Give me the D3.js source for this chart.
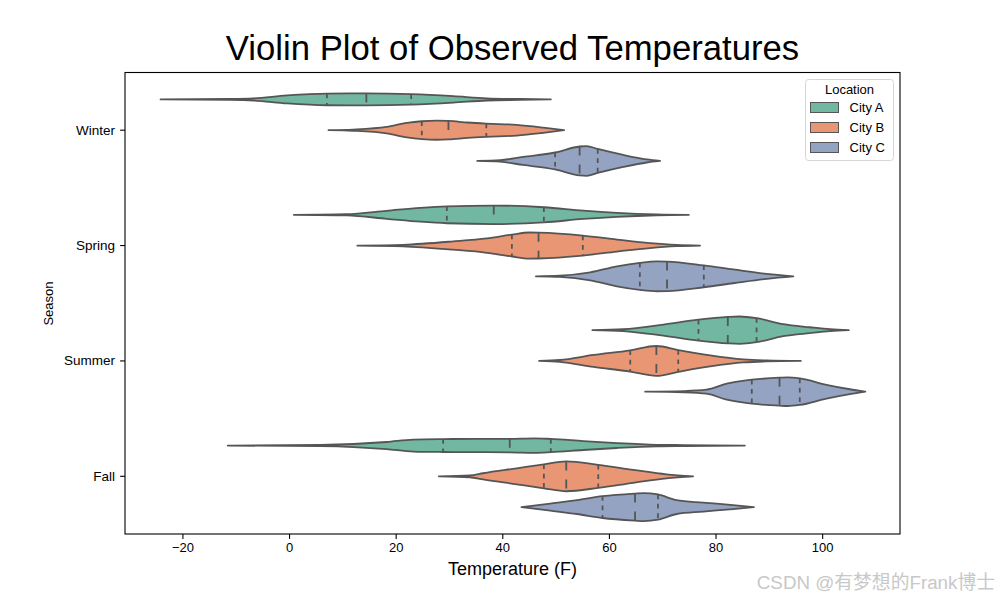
<!DOCTYPE html>
<html>
<head>
<meta charset="utf-8">
<script src="https://cdn.jsdelivr.net/npm/d3@7"></script>
<style>
  html, body { margin: 0; padding: 0; background: #fff; }
  svg { display: block; font-family: "Liberation Sans", Arial, sans-serif; }
</style>
</head>
<body>
<svg id="chart" width="1000" height="600"></svg>
<script>
// ---------------- DATA ----------------
const seasons = ["Winter", "Spring", "Summer", "Fall"];
const cities = ["City A", "City B", "City C"];
const xTicks = [-20, 0, 20, 40, 60, 80, 100];
const cityColors = ["#72b7a1", "#e99675", "#95a3c3"];

// quartiles [Q1, median, Q3] per season (Winter, Spring, Summer, Fall)
const quartilesA = [[7.1, 14.5, 22.9], [29.6, 38.4, 47.8], [76.8, 82.3, 87.7], [28.9, 41.4, 49.1]];
const quartilesB = [[24.9, 29.9, 37.0], [41.8, 46.8, 55.1], [64.0, 68.9, 73.0], [47.8, 52.0, 58.0]];
const quartilesC = [[49.9, 54.5, 57.9], [65.8, 70.9, 77.8], [86.8, 92.0, 95.8], [58.8, 64.9, 69.2]];

// density profiles: [temperature, relative density]
const densWinterA = [[-24.1,0],[-11.1,0.03],[-6.7,0.07],[-0.4,0.26],[7.1,0.38],[14.5,0.39],[22.9,0.34],[30.8,0.21],[37.1,0.07],[43.3,0.03],[49.1,0]];
const densWinterB = [[7.4,0],[12.0,0.04],[18.3,0.21],[22.1,0.47],[24.9,0.58],[27.7,0.62],[29.9,0.6],[33.5,0.5],[37.0,0.43],[42.7,0.35],[47.7,0.17],[51.6,0]];
const densWinterC = [[35.3,0],[39.6,0.05],[43.9,0.26],[49.9,0.55],[54.5,0.94],[55.8,0.97],[57.9,0.78],[62.7,0.39],[67.1,0.1],[69.6,0]];
const densSpringA = [[0.9,0],[10.8,0.04],[18.3,0.26],[24.6,0.45],[29.6,0.55],[38.4,0.6],[47.8,0.49],[55.2,0.27],[61.5,0.13],[69.0,0.03],[75.0,0]];
const densSpringB = [[12.8,0],[21.4,0.05],[30.8,0.27],[37.1,0.47],[41.8,0.71],[45.0,0.85],[46.8,0.84],[55.1,0.65],[61.5,0.39],[67.7,0.16],[72.7,0.04],[77.1,0]];
const densSpringC = [[46.3,0],[50.8,0.04],[56.5,0.26],[61.5,0.65],[65.8,0.88],[69.0,0.97],[70.9,0.96],[77.8,0.71],[83.3,0.45],[89.6,0.16],[94.6,0]];
const densSummerA = [[56.9,0],[62.7,0.06],[70.2,0.36],[76.8,0.68],[82.3,0.86],[84.5,0.89],[87.7,0.78],[92.7,0.39],[97.7,0.19],[101.5,0.06],[105.0,0]];
const densSummerB = [[46.9,0],[50.8,0.06],[57.1,0.39],[64.0,0.69],[68.9,0.97],[73.0,0.71],[79.0,0.36],[85.2,0.1],[89.6,0.03],[96.0,0]];
const densSummerC = [[66.8,0],[74.0,0.04],[78.3,0.13],[82.1,0.52],[86.8,0.78],[92.0,0.91],[93.5,0.93],[95.8,0.86],[100.8,0.45],[105.2,0.16],[108.1,0]];
const densFallA = [[-11.5,0],[5.8,0.04],[12.1,0.1],[18.3,0.23],[23.3,0.39],[28.9,0.42],[35.0,0.43],[41.4,0.44],[46.0,0.47],[49.1,0.43],[55.2,0.29],[61.5,0.16],[69.0,0.05],[74.0,0.03],[85.5,0]];
const densFallB = [[28.1,0],[33.9,0.06],[36.4,0.2],[42.7,0.52],[47.8,0.78],[52.0,0.97],[58.0,0.75],[64.6,0.42],[70.8,0.13],[75.8,0]];
const densFallC = [[43.6,0],[49.0,0.23],[54.0,0.45],[58.8,0.71],[64.9,0.88],[66.5,0.91],[69.2,0.82],[72.7,0.45],[77.7,0.29],[83.3,0.13],[87.2,0]];

// ---------------- BUILD ----------------
const quartiles = [quartilesA, quartilesB, quartilesC];
const densities = [
  [densWinterA, densSpringA, densSummerA, densFallA],
  [densWinterB, densSpringB, densSummerB, densFallB],
  [densWinterC, densSpringC, densSummerC, densFallC]
];
const violins = [];
seasons.forEach((s, si) => {
  cities.forEach((c, ci) => {
    violins.push({ season: s, city: c, ci, dens: densities[ci][si], q: quartiles[ci][si] });
  });
});

const svg = d3.select("#chart");
const plot = { left: 125, right: 900, top: 72.5, bottom: 534 };

const x = d3.scaleLinear().domain([-30.77, 114.6]).range([plot.left, plot.right]);
const y = d3.scaleBand().domain(seasons).range([plot.top, plot.bottom]).paddingInner(0).paddingOuter(0);
const hue = d3.scaleBand().domain(cities).range([-0.4 * y.bandwidth(), 0.4 * y.bandwidth()]);
const w = d3.scaleLinear().domain([0, 1]).range([0, hue.bandwidth() / 2]);
const color = d3.scaleOrdinal().domain(cities).range(cityColors);

const outline = "#555555";

function densAt(dens, t) {
  for (let i = 0; i < dens.length - 1; i++) {
    const [t0, d0] = dens[i], [t1, d1] = dens[i + 1];
    if (t >= t0 && t <= t1) return d0 + (d1 - d0) * (t - t0) / (t1 - t0);
  }
  return 0;
}

const g = svg.append("g");

violins.forEach(v => {
  const cy = y(v.season) + y.bandwidth() / 2 + hue(v.city) + hue.bandwidth() / 2;
  const area = d3.area()
    .x(d => x(d[0]))
    .y0(d => cy - w(d[1]))
    .y1(d => cy + w(d[1]))
    .curve(d3.curveMonotoneX);
  g.append("path")
    .attr("d", area(v.dens))
    .attr("fill", color(v.city))
    .attr("stroke", outline)
    .attr("stroke-width", 1.8)
    .attr("stroke-linejoin", "round");
  v.q.forEach((qv, qi) => {
    const hw = w(densAt(v.dens, qv));
    g.append("line")
      .attr("x1", x(qv)).attr("x2", x(qv))
      .attr("y1", cy - hw).attr("y2", cy + hw)
      .attr("stroke", outline)
      .attr("stroke-width", 1.8)
      .attr("stroke-dasharray", qi === 1 ? "9,9" : "4.7,4.7");
  });
});

// axes
const xAxis = d3.axisBottom(x).tickValues(xTicks).tickSize(4.9).tickPadding(3.5)
  .tickFormat(d => d < 0 ? "\u2212" + Math.abs(d) : d);
const gx = svg.append("g").attr("transform", `translate(0,${plot.bottom})`).call(xAxis);
gx.select(".domain").remove();
gx.selectAll("line").attr("stroke", "#000").attr("stroke-width", 1.1);
gx.selectAll("text").attr("font-size", 13).attr("fill", "#000").attr("font-family", "Liberation Sans, Arial, sans-serif");

const yAxis = d3.axisLeft(y).tickSize(4.9).tickPadding(5);
const gy = svg.append("g").attr("transform", `translate(${plot.left},0)`).call(yAxis);
gy.select(".domain").remove();
gy.selectAll("line").attr("stroke", "#000").attr("stroke-width", 1.1);
gy.selectAll("text").attr("font-size", 13.5).attr("fill", "#000").attr("font-family", "Liberation Sans, Arial, sans-serif");

// frame
svg.append("rect")
  .attr("x", plot.left).attr("y", plot.top)
  .attr("width", plot.right - plot.left).attr("height", plot.bottom - plot.top)
  .attr("fill", "none").attr("stroke", "#000").attr("stroke-width", 1.1);

// titles
svg.append("text").attr("x", 512.5).attr("y", 59.5).attr("text-anchor", "middle")
  .attr("font-size", 34.7).attr("fill", "#000").text("Violin Plot of Observed Temperatures");
svg.append("text").attr("x", 512.5).attr("y", 575).attr("text-anchor", "middle")
  .attr("font-size", 18).attr("fill", "#000").text("Temperature (F)");
svg.append("text").attr("transform", "translate(53,303.5) rotate(-90)").attr("text-anchor", "middle")
  .attr("font-size", 13).attr("fill", "#000").text("Season");

// legend
const lg = svg.append("g");
lg.append("rect").attr("x", 805.5).attr("y", 79.5).attr("width", 88).attr("height", 81)
  .attr("rx", 3).attr("fill", "#fff").attr("fill-opacity", 0.8)
  .attr("stroke", "#d6d6d6").attr("stroke-width", 1);
lg.append("text").attr("x", 849.5).attr("y", 94).attr("text-anchor", "middle")
  .attr("font-size", 13).attr("fill", "#000").text("Location");
cities.forEach((c, i) => {
  const yy = 102.5 + i * 20;
  lg.append("rect").attr("x", 810.5).attr("y", yy).attr("width", 28).attr("height", 10)
    .attr("fill", color(c)).attr("stroke", outline).attr("stroke-width", 1);
  lg.append("text").attr("x", 849.5).attr("y", yy + 9.5)
    .attr("font-size", 13).attr("fill", "#000").text(c);
});

// watermark
svg.append("text").attr("x", 995).attr("y", 589).attr("text-anchor", "end")
  .attr("font-size", 18.8).attr("fill", "#c8c8c8")
  .attr("font-family", "Liberation Sans, 'Noto Sans CJK SC', sans-serif")
  .text("CSDN @有梦想的Frank博士");
</script>
</body>
</html>
